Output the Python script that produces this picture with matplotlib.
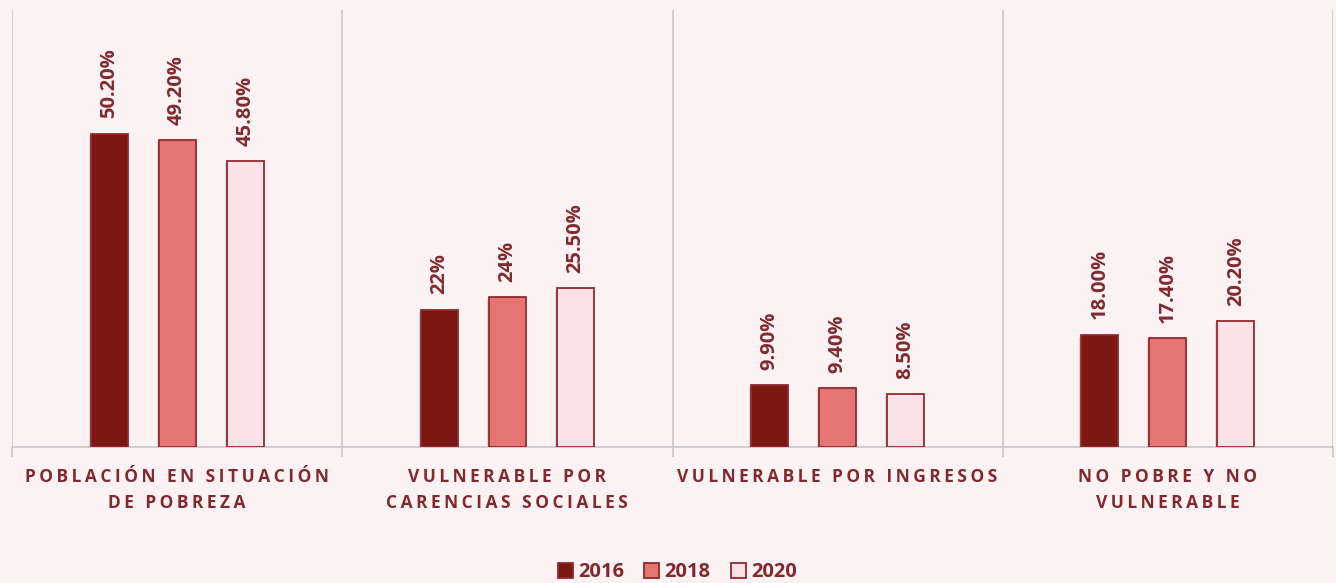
import matplotlib
matplotlib.use("Agg")
import matplotlib.pyplot as plt
import matplotlib.patheffects as pe
from matplotlib.patches import Patch
import numpy as np

# Chart data
categories = ["POBLACIÓN EN SITUACIÓN\nDE POBREZA", "VULNERABLE POR\nCARENCIAS SOCIALES",
              "VULNERABLE POR INGRESOS", "NO POBRE Y NO\nVULNERABLE"]
years = ["2016", "2018", "2020"]
v2016 = [50.2, 22, 9.9, 18.0]
v2018 = [49.2, 24, 9.4, 17.4]
v2020 = [45.8, 25.5, 8.5, 20.2]
lab2016 = ["50.20%", "22%", "9.90%", "18.00%"]
lab2018 = ["49.20%", "24%", "9.40%", "17.40%"]
lab2020 = ["45.80%", "25.50%", "8.50%", "20.20%"]

bg = "#FCF2F4"
text_col = "#7F2A2E"
edge_col = "#8E2A2F"
fills = ["#7B1812", "#E57572", "#FCE1E6"]
fonts = ["Open Sans", "DejaVu Sans"]


def spaced(s):
    # fake letter spacing with thin spaces
    return "\n".join("\u2009".join(line) for line in s.split("\n"))


fig = plt.figure(figsize=(13.36, 5.83), dpi=100, facecolor=bg)
ax = fig.add_axes([12 / 1336, 1 - 447 / 583, (1333 - 12) / 1336, (447 - 10) / 583])
ax.set_facecolor(bg)

x = np.arange(len(categories))
w = 0.112
off = 0.206
series = [v2016, v2018, v2020]
labels = [lab2016, lab2018, lab2020]
shadow = [pe.SimplePatchShadow(offset=(-1.5, -1.5), alpha=0.15), pe.Normal()]

for i, (vals, labs) in enumerate(zip(series, labels)):
    bars = ax.bar(x + (i - 1) * off, vals, width=w, color=fills[i], edgecolor=edge_col,
                  linewidth=1.3, zorder=3, label=years[i])
    for b in bars:
        b.set_path_effects(shadow)
    for b, lab in zip(bars, labs):
        ax.annotate(lab, (b.get_x() + b.get_width() / 2, b.get_height()),
                    xytext=(0, 11), textcoords="offset points", rotation=90,
                    ha="center", va="bottom", fontsize=14.5, fontweight="bold",
                    color=text_col, family=fonts)

ax.set_xlim(-0.5, len(categories) - 0.5)
ax.set_ylim(0, 70)
ax.set_yticks([])

ax.set_xticks(x)
ax.set_xticklabels([spaced(c) for c in categories], fontsize=12.5, fontweight="bold",
                   color=text_col, family=fonts, linespacing=1.55)
ax.tick_params(axis="x", which="major", length=0, pad=15)
ax.set_xticks(np.arange(-0.5, len(categories)), minor=True)
ax.tick_params(axis="x", which="minor", length=7, color="#C8C8C8", width=1.2)
ax.grid(axis="x", which="minor", color="#C8C8C8", linewidth=1.2, zorder=0)

for s in ["top", "left", "right"]:
    ax.spines[s].set_visible(False)
ax.spines["bottom"].set_color("#C8C8C8")
ax.spines["bottom"].set_linewidth(1.2)

handles = [Patch(facecolor=fills[i], edgecolor=edge_col, linewidth=1.3, label=years[i])
           for i in range(3)]
leg = fig.legend(handles=handles, loc="lower center", bbox_to_anchor=(0.507, -0.03), ncol=3,
                 frameon=False, handlelength=0.75, handleheight=0.75, handletextpad=0.25,
                 columnspacing=1.0, prop={"family": fonts, "weight": "bold", "size": 14.5})
for t in leg.get_texts():
    t.set_color(text_col)

fig.savefig("out.png", dpi=100, facecolor=bg)
